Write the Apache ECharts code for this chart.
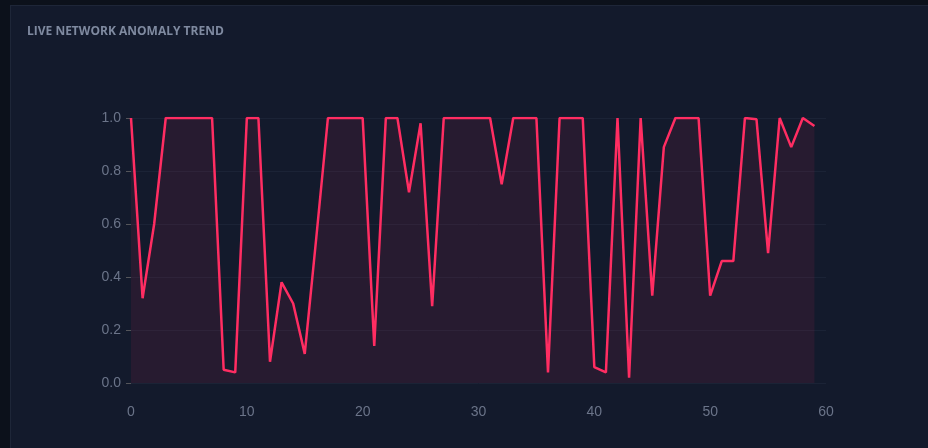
<!DOCTYPE html>
<html>
<head>
<meta charset="utf-8">
<script src="https://cdn.jsdelivr.net/npm/echarts@6/dist/echarts.min.js"></script>
<style>
	html, body { margin: 0; padding: 0; background: #0c111b; }
	#panel { position: absolute; left: 10px; top: 5px; width: 930px; height: 450px; background: #131a2c; border: 1px solid #1e2638; box-sizing: border-box; }
	#chart { width: 928px; height: 448px; position: absolute; left: 0; top: 0; }
</style>
</head>
<body>
<div id="panel"></div>
<div id="chart"></div>
<script>
// anomaly score per sample
var anomaly_values = [
	1.0, 0.32, 0.6, 1.0, 1.0, 1.0, 1.0, 1.0, 0.05, 0.04,
	1.0, 1.0, 0.08, 0.38, 0.3, 0.11, 0.55, 1.0, 1.0, 1.0,
	1.0, 0.14, 1.0, 1.0, 0.72, 0.98, 0.29, 1.0, 1.0, 1.0,
	1.0, 1.0, 0.75, 1.0, 1.0, 1.0, 0.04, 1.0, 1.0, 1.0,
	0.06, 0.04, 1.0, 0.02, 1.0, 0.33, 0.89, 1.0, 1.0, 1.0,
	0.33, 0.46, 0.46, 1.0, 0.995, 0.49, 1.0, 0.89, 1.0, 0.97
];
var points = anomaly_values.map(function(v, i) { return [i, v]; });

var chart = echarts.init(document.getElementById('chart'));
chart.setOption({
	backgroundColor: 'transparent',
	title: {
		text: 'LIVE NETWORK ANOMALY TREND',
		left: 22, top: 21,
		textStyle: { color: '#7f8aa0', fontSize: 12, fontWeight: 'bold', fontFamily: 'Open Sans' },
	},
	grid: { left: 131, right: 102, top: 118, bottom: 65 },
	xAxis: {
		type: 'value', min: 0, max: 60, interval: 10,
		axisLine: { show: false }, axisTick: { show: false },
		splitLine: { show: false },
		axisLabel: { color: '#6b7489', fontSize: 14, margin: 22 },
	},
	yAxis: {
		type: 'value', min: 0, max: 1, interval: 0.2,
		axisLine: { show: false },
		axisLabel: { color: '#6b7489', fontSize: 14, margin: 10, formatter: function(v) { return v.toFixed(1); } },
		splitLine: { lineStyle: { color: '#1b2336' } },
	},
	series: [{
		type: 'line',
		data: points,
		symbol: 'none',
		lineStyle: { color: '#ff2d62', width: 2.5 },
		areaStyle: { color: 'rgba(255, 45, 98, 0.12)' },
	}],
});
</script>
</body>
</html>
